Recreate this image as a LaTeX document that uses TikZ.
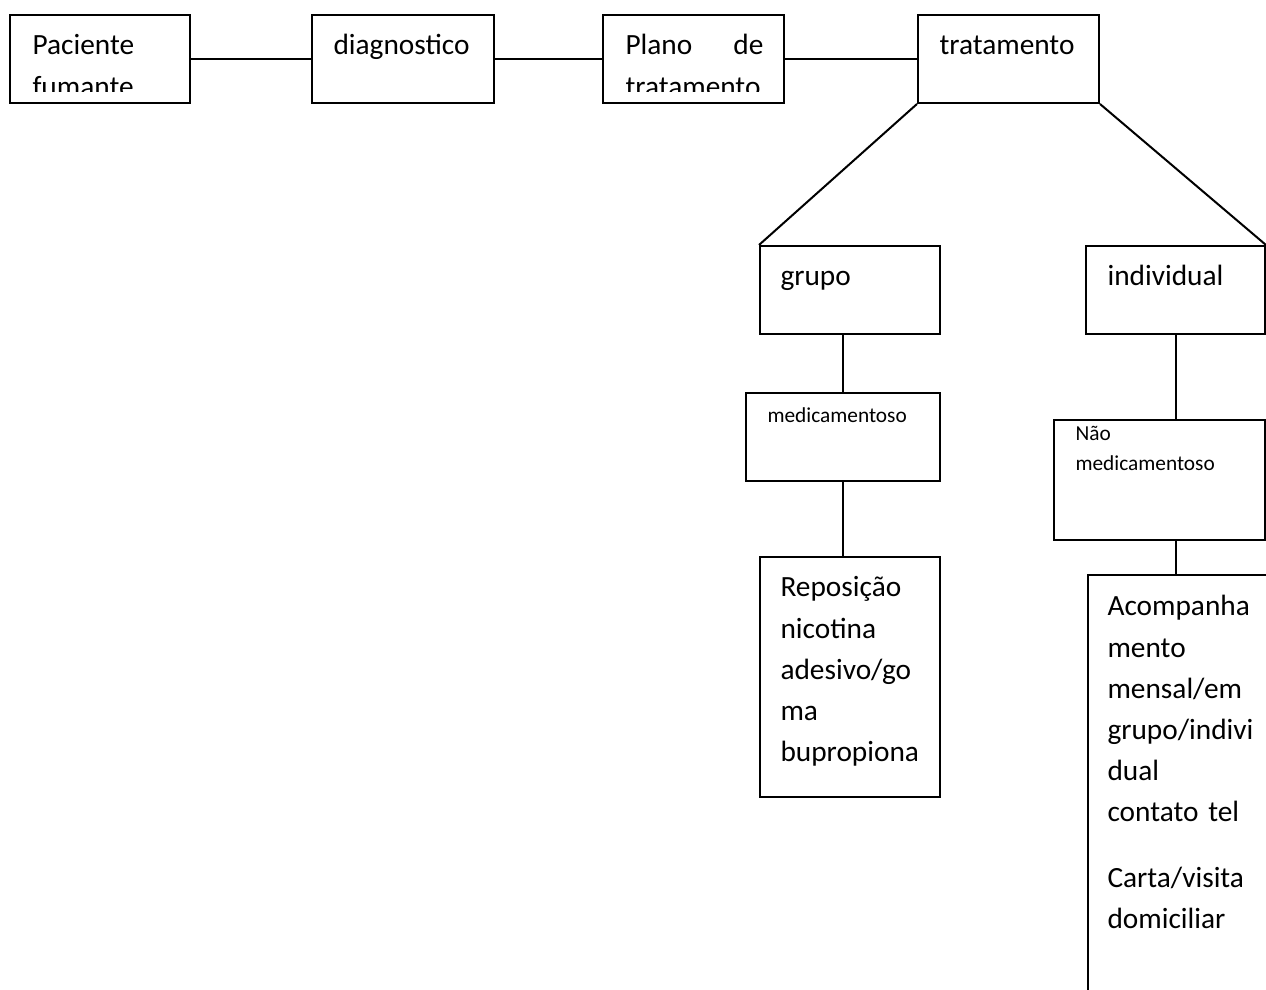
\documentclass[tikz,border=0pt]{standalone}
\usepackage{fontspec}
\setmainfont{Carlito}
\usetikzlibrary{fit}
\begin{document}
\begin{tikzpicture}[x=0.375pt,y=-0.375pt,
  box/.style={draw, line width=0.75pt, inner sep=0pt},
  big/.style={font=\fontsize{11}{15.4}\selectfont, inner sep=0pt, anchor=base west, align=left},
  small/.style={font=\fontsize{8}{11.2}\selectfont, inner sep=0pt, anchor=base west, align=left},
  link/.style={line width=0.75pt}]
\clip (0,0) rectangle (1266,990);
\fill[white] (0,0) rectangle (1266,990);
% boxes
\node[box, fit={(10,15) (190,103)}] (pac) {};
\node[box, fit={(312,15) (494,103)}] (dia) {};
\node[box, fit={(603,15) (784,103)}] (pla) {};
\node[box, fit={(918,15) (1099,103)}] (tra) {};
\node[box, fit={(760,246) (940,334)}] (gru) {};
\node[box, fit={(1086,246) (1265,334)}] (ind) {};
\node[box, fit={(746,393) (940,481)}] (med) {};
\node[box, fit={(1054,420) (1265,540)}] (nao) {};
\node[box, fit={(760,557) (940,797)}] (rep) {};
\node[box, fit={(1088,575) (1300,1020)}] (aco) {};
% texts
\begin{scope}
\clip (10,15) rectangle (190,92);
\node[big, text width=56pt] (pact) at (32,55) {Paciente\\fumante};
\end{scope}
\node[big] (diat) at (333,55) {diagnostico};
\begin{scope}
\clip (603,15) rectangle (784,92);
\node[big, text width=51.75pt] (plat) at (625,55) {Plano\hfill de\\tratamento};
\end{scope}
\node[big] (trat) at (939,55) {tratamento};
\node[big] (grut) at (780,286) {grupo};
\node[big] (indt) at (1107,286) {individual};
\node[small] (medt) at (767,423) {medicamentoso};
\node[small, text width=67pt] (naot) at (1075,441) {Não\\medicamentoso};
\node[big, text width=56pt] (rept) at (780,597) {Reposição\\nicotina\\adesivo/go\\ma\\bupropiona};
\node[big, text width=60pt] (acot) at (1107,616) {Acompanha\\mento\\mensal/em\\grupo/indivi\\dual\\contato tel\\[9.4pt]Carta/visita\\domiciliar};
% connectors
\draw[link] (pac.east) -- (dia.west);
\draw[link] (dia.east) -- (pla.west);
\draw[link] (pla.east) -- (tra.west);
\draw[link] (tra.south west) -- (gru.north west);
\draw[link] (tra.south east) -- (ind.north east);
\draw[link] (med.north) -- (med.north |- gru.south);
\draw[link] (med.south) -- (med.south |- rep.north);
\draw[link] (ind.south) -- (ind.south |- nao.north);
\draw[link] (ind.south |- nao.south) -- (ind.south |- aco.north);
\end{tikzpicture}
\end{document}
